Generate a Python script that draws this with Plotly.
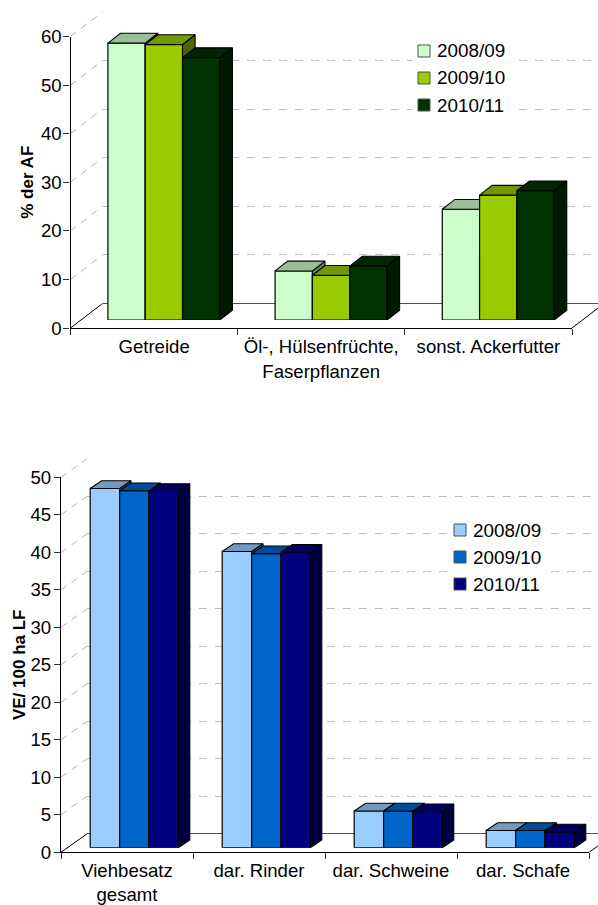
import plotly.graph_objects as go

W, H = 598, 905

# ---- data ----
seasons = ["2008/09", "2009/10", "2010/11"]

crop_categories = ["Getreide", "Öl-, Hülsenfrüchte,<br>Faserpflanzen", "sonst. Ackerfutter"]
crop_0809 = [57.0, 10.1, 22.8]
crop_0910 = [56.7, 9.2, 25.7]
crop_1011 = [54.0, 11.1, 26.6]

stock_categories = ["Viehbesatz<br>gesamt", "dar. Rinder", "dar. Schweine", "dar. Schafe"]
stock_0809 = [47.9, 39.5, 4.9, 2.3]
stock_0910 = [47.6, 39.2, 4.9, 2.3]
stock_1011 = [47.5, 39.4, 4.8, 2.1]

# ---- styles / geometry (pixels) ----
green = [("#CCFFCC", "#99BF99", "#668066"), ("#99CC00", "#739900", "#4D6600"), ("#003300", "#002600", "#001A00")]
blue = [("#99CCFF", "#7399BF", "#4D6680"), ("#0066CC", "#004C99", "#003366"), ("#000080", "#000060", "#000040")]
FONT = "Liberation Sans, Arial, sans-serif"
FS = 18.6

charts = [
    dict(cats=crop_categories, series=[crop_0809, crop_0910, crop_1011], colors=green,
         x0=70.5, x1=572, y0=328, ytop=36.5, ymax=60, step=10,
         back=(32, 24.5), plane=(9.8, 8), depth=(12.6, 9.8), bw=37.3,
         title="% der AF", box=(412, 39, 514, 118), sw=(418, 51, 27), first=1,
         xstand=2, ystand=-2, tstand=3),
    dict(cats=stock_categories, series=[stock_0809, stock_0910, stock_1011], colors=blue,
         x0=61, x1=589, y0=852.3, ytop=477.3, ymax=50, step=5,
         back=(26, 18.5), plane=(7.3, 4.6), depth=(11.4, 7.7), bw=29.4,
         title="VE/ 100 ha LF", box=(448, 517, 546, 596), sw=(454, 530, 27), first=7,
         xstand=1, ystand=-1, tstand=0),
]


def xdom(a, b):
    return [max(a, 0) / W, min(b, W) / W]


def ydom(bottom, top):
    return [1 - bottom / H, 1 - top / H]


def names(k):
    s = "" if k == 1 else str(k)
    return f"x{s}", f"y{s}", f"xaxis{s}", f"yaxis{s}"


fig = go.Figure()
layout = {}
shapes = []
annotations = []

for c in charts:
    n = len(c["cats"])
    cat = (c["x1"] - c["x0"]) / n
    unit = (c["y0"] - c["ytop"]) / c["ymax"]
    ticks = list(range(0, c["ymax"] + 1, c["step"]))
    f = c["first"]
    bdx, bdy = c["back"]
    ddx, ddy = bdx / cat, bdy / unit

    # back wall: grid + floor line
    xn, yn, ax, ay = names(f)
    layout[ax] = dict(domain=xdom(c["x0"] + bdx, W), range=[0, (W - c["x0"] - bdx) / cat],
                      visible=False, anchor=yn, automargin=False)
    layout[ay] = dict(domain=ydom(c["y0"] - bdy, c["ytop"] - bdy), range=[0, c["ymax"]], tickvals=ticks,
                      showticklabels=False, ticks="", showline=False, showgrid=True, gridcolor="#BEBEBE",
                      griddash="8px,8px", gridwidth=1.2, zeroline=True, zerolinecolor="#505050",
                      zerolinewidth=1.2, anchor=xn, automargin=False)
    fig.add_trace(go.Scatter(x=[0], y=[0], mode="markers", marker=dict(opacity=0), xaxis=xn, yaxis=yn,
                             showlegend=False, hoverinfo="skip"))

    # side wall and floor edges, on a plane that spans front and back
    xn, yn, ax, ay = names(f + 1)
    layout[ax] = dict(domain=xdom(c["x0"], W), range=[0, (W - c["x0"]) / cat], visible=False, anchor=yn,
                      automargin=False)
    layout[ay] = dict(domain=ydom(c["y0"], c["ytop"] - bdy), range=[0, c["ymax"] + ddy], visible=False, anchor=xn,
                      automargin=False)
    xs, ys = [], []
    for t in ticks[1:]:
        xs += [0, ddx, None]
        ys += [t, t + ddy, None]
    fig.add_trace(go.Scatter(x=xs, y=ys, mode="lines", xaxis=xn, yaxis=yn, showlegend=False,
                             line=dict(color="#B0B0B0", width=1, dash="7px,6px"), hoverinfo="skip"))
    fig.add_trace(go.Scatter(x=[0, ddx, None, n, n + ddx], y=[0, ddy, None, 0, ddy], mode="lines",
                             xaxis=xn, yaxis=yn, showlegend=False,
                             line=dict(color="black", width=1), hoverinfo="skip"))

    # bars: one overlaid plane per series, painted left to right
    pdx, pdy = c["plane"]
    fdx, fdy = c["depth"][0] / cat, c["depth"][1] / unit
    w = c["bw"] / cat
    for i, (vals, col) in enumerate(zip(c["series"], c["colors"])):
        xn, yn, ax, ay = names(f + 2 + i)
        layout[ax] = dict(domain=xdom(c["x0"] + pdx, c["x1"] + pdx), range=[0, n], visible=False, anchor=yn,
                          automargin=False)
        layout[ay] = dict(domain=ydom(c["y0"] - pdy, c["ytop"] - pdy), range=[0, c["ymax"]], visible=False,
                          anchor=xn, automargin=False)
        centers = [j + 0.5 + (i - 1) * w for j in range(n)]
        fig.add_trace(go.Bar(x=centers, y=vals, width=w, name=seasons[i], xaxis=xn, yaxis=yn,
                             marker=dict(color=col[0], line=dict(color="black", width=1.2)),
                             showlegend=False, cliponaxis=False))
        tx, ty, sx, sy = [], [], [], []
        for xc, v in zip(centers, vals):
            l, r = xc - w / 2, xc + w / 2
            tx += [l, l + fdx, r + fdx, r, l, None]
            ty += [v, v + fdy, v + fdy, v, v, None]
            sx += [r, r + fdx, r + fdx, r, r, None]
            sy += [v, v + fdy, fdy, 0, v, None]
        for px, py, fc in ((sx, sy, col[2]), (tx, ty, col[1])):
            fig.add_trace(go.Scatter(x=px, y=py, mode="lines", fill="toself", fillcolor=fc,
                                     line=dict(color="black", width=1.1), xaxis=xn, yaxis=yn,
                                     showlegend=False, cliponaxis=False, hoverinfo="skip"))

    # front axes
    xn, yn, ax, ay = names(f + 5)
    layout[ax] = dict(domain=xdom(c["x0"], c["x1"]), range=[0, n], anchor=yn, automargin=False,
                      tickvals=[j + 0.5 for j in range(n)], ticktext=c["cats"], ticks="",
                      ticklabelstandoff=c["xstand"],
                      showline=True, linecolor="black", linewidth=1.2, showgrid=False, zeroline=False,
                      tickfont=dict(family=FONT, size=FS, color="black"), tickangle=0,
                      minor=dict(tickvals=list(range(n + 1)), ticks="outside", ticklen=6,
                                 tickcolor="#303030", tickwidth=1, showgrid=False))
    layout[ay] = dict(domain=ydom(c["y0"], c["ytop"]), range=[0, c["ymax"]], anchor=xn, automargin=False,
                      tickvals=ticks, ticks="outside", ticklen=6, tickcolor="#303030", tickwidth=1,
                      ticklabelstandoff=c["ystand"],
                      showline=True, linecolor="black", linewidth=1.2, showgrid=False, zeroline=False,
                      tickfont=dict(family=FONT, size=FS, color="black"),
                      title=dict(text=f"<b>{c['title']}</b>", standoff=c["tstand"],
                                 font=dict(family=FONT, size=17, color="black")))
    fig.add_trace(go.Scatter(x=[0], y=[0], mode="markers", marker=dict(opacity=0), xaxis=xn, yaxis=yn,
                             showlegend=False, hoverinfo="skip"))

    # key
    bx0, by0, bx1, by1 = c["box"]
    shapes.append(dict(type="rect", xref="paper", yref="paper", x0=bx0 / W, x1=bx1 / W, y0=1 - by0 / H, y1=1 - by1 / H,
                       fillcolor="white", line=dict(width=0), layer="above"))
    sx0, sy0, gap = c["sw"]
    for i, label in enumerate(seasons):
        yc = sy0 + i * gap
        shapes.append(dict(type="rect", xref="paper", yref="paper", x0=sx0 / W, x1=(sx0 + 12) / W,
                           y0=1 - (yc - 6) / H, y1=1 - (yc + 6) / H, fillcolor=c["colors"][i][0],
                           line=dict(color="#505050", width=1), layer="above"))
        annotations.append(dict(text=label, xref="paper", yref="paper", x=(sx0 + 18) / W, y=1 - yc / H,
                                xanchor="left", yanchor="middle", showarrow=False, borderpad=0,
                                font=dict(family=FONT, size=FS + 0.3, color="black")))

fig.update_layout(width=W, height=H, margin=dict(l=0, r=0, t=0, b=0), paper_bgcolor="white",
                  plot_bgcolor="rgba(0,0,0,0)", barmode="overlay", showlegend=False,
                  shapes=shapes, annotations=annotations, **layout)
fig.write_html("out.html", post_script="document.body.style.margin='0';", config={"displayModeBar": False})
